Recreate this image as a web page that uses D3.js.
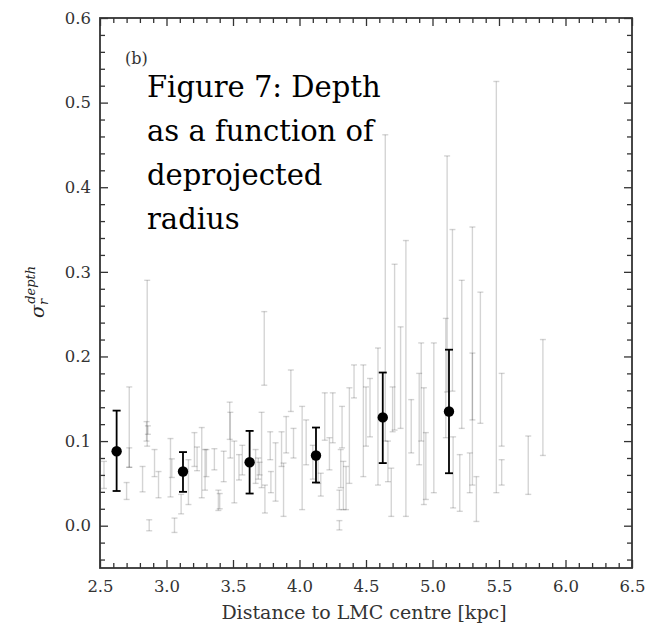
<!DOCTYPE html>
<html>
<head>
<meta charset="utf-8">
<script src="https://cdn.jsdelivr.net/npm/d3@7"></script>
<style>
  html, body { margin: 0; padding: 0; background: #fff; }
  svg { display: block; }
</style>
</head>
<body>
<svg id="chart" width="662" height="625"></svg>
<script>
// ---- data ----
const xTicks = [2.5, 3.0, 3.5, 4.0, 4.5, 5.0, 5.5, 6.0, 6.5];
const yTicks = [0.0, 0.1, 0.2, 0.3, 0.4, 0.5, 0.6];

// individual field measurements (grey error bars): x, low, high
const greyX  = [2.53,2.72,2.72,2.70,2.855,2.85,2.86,2.87,2.82,2.91,2.94,3.03,3.04,3.06,3.11,3.165,3.21,3.23,3.265,3.29,
                3.30,3.36,3.39,3.40,3.43,3.475,3.48,3.51,3.545,3.57,3.67,3.69,3.70,3.715,3.735,3.74,3.78,3.785,3.82,3.865,
                3.88,3.90,3.935,3.955,4.02,4.05,4.10,4.14,4.16,4.19,4.225,4.25,4.30,4.30,4.31,4.32,4.33,4.35,4.375,4.41,
                4.48,4.50,4.53,4.59,4.645,4.665,4.69,4.70,4.715,4.76,4.80,4.84,4.90,4.915,4.935,4.95,5.01,5.11,5.10,5.15,
                5.155,5.205,5.22,5.28,5.30,5.30,5.33,5.36,5.48,5.52,5.52,5.72,5.83];
const greyLo = [0.044,0.069,0.069,0.031,0.094,0.100,0.108,-0.006,0.040,0.058,0.033,0.034,0.057,-0.008,0.014,0.025,0.070,0.065,0.033,0.042,
                0.058,0.066,0.018,0.020,0.052,0.102,0.080,0.027,0.054,0.060,0.050,0.055,0.060,0.045,0.166,0.015,0.078,0.039,0.029,0.070,
                0.011,0.086,0.135,0.080,0.019,0.072,0.055,0.050,0.035,0.101,0.066,0.098,0.019,-0.005,0.045,0.092,0.019,0.019,0.050,0.151,
                0.058,0.094,0.105,0.048,0.100,0.052,0.011,0.111,0.113,0.115,0.011,0.086,0.072,0.100,0.025,0.031,0.039,0.158,0.104,0.159,
                0.021,0.017,0.115,0.039,0.125,0.048,0.005,0.121,0.039,0.094,0.048,0.037,0.083];
const greyHi = [0.076,0.164,0.092,0.051,0.290,0.123,0.118,0.007,0.070,0.090,0.064,0.103,0.079,0.009,0.037,0.078,0.110,0.093,0.116,0.090,
                0.090,0.091,0.042,0.038,0.088,0.146,0.134,0.100,0.084,0.095,0.090,0.080,0.075,0.134,0.253,0.048,0.111,0.064,0.098,0.111,
                0.074,0.129,0.184,0.115,0.141,0.125,0.095,0.085,0.062,0.157,0.104,0.157,0.042,0.006,0.090,0.141,0.076,0.070,0.163,0.190,
                0.190,0.164,0.174,0.210,0.462,0.100,0.068,0.164,0.309,0.235,0.337,0.149,0.180,0.216,0.163,0.110,0.216,0.437,0.245,0.350,
                0.105,0.084,0.290,0.086,0.353,0.204,0.058,0.276,0.525,0.180,0.078,0.106,0.220];

// binned averages (black points)
const binX  = [2.625, 3.124, 3.625, 4.124, 4.626, 5.124];
const binY  = [0.088, 0.064, 0.075, 0.083, 0.128, 0.135];
const binLo = [0.041, 0.040, 0.038, 0.051, 0.074, 0.062];
const binHi = [0.136, 0.087, 0.112, 0.116, 0.181, 0.208];

const panelLabel = "(b)";
const overlayLines = ["Figure 7: Depth", "as a function of", "deprojected", "radius"];
const xLabel = "Distance to LMC centre [kpc]";

// ---- layout ----
const L = 100, R = 632, T = 18, B = 568;
const svg = d3.select("#chart");
const x = d3.scaleLinear().domain([2.5, 6.5]).range([L, R]);
const y = d3.scaleLinear().domain([-0.05, 0.6]).range([B, T]);

const axisColor = "#333";
const serif = "'DejaVu Serif', serif";

// grey error bars
const gData = greyX.map((v, i) => ({x: v, lo: greyLo[i], hi: greyHi[i]}));
const gG = svg.append("g").attr("stroke", "#000").attr("stroke-opacity", 0.17).attr("stroke-width", 1.4);
gData.forEach(d => {
  const cx = x(d.x);
  gG.append("line").attr("x1", cx).attr("x2", cx).attr("y1", y(d.lo)).attr("y2", y(d.hi));
  gG.append("line").attr("x1", cx - 3).attr("x2", cx + 3).attr("y1", y(d.lo)).attr("y2", y(d.lo));
  gG.append("line").attr("x1", cx - 3).attr("x2", cx + 3).attr("y1", y(d.hi)).attr("y2", y(d.hi));
});

// black binned points
const bData = binX.map((v, i) => ({x: v, y: binY[i], lo: binLo[i], hi: binHi[i]}));
const bG = svg.append("g").attr("stroke", "#000").attr("stroke-width", 1.8);
bData.forEach(d => {
  const cx = x(d.x);
  bG.append("line").attr("x1", cx).attr("x2", cx).attr("y1", y(d.lo)).attr("y2", y(d.hi));
  bG.append("line").attr("x1", cx - 4).attr("x2", cx + 4).attr("y1", y(d.lo)).attr("y2", y(d.lo));
  bG.append("line").attr("x1", cx - 4).attr("x2", cx + 4).attr("y1", y(d.hi)).attr("y2", y(d.hi));
});
svg.append("g").selectAll("circle").data(bData).join("circle")
  .attr("cx", d => x(d.x)).attr("cy", d => y(d.y)).attr("r", 5.2).attr("fill", "#000");

// axes
const xMinor = d3.range(25, 66).map(v => v / 10).filter(v => !xTicks.some(t => Math.abs(t - v) < 1e-6));
const yMinor = d3.range(-2, 31).map(v => v / 50).filter(v => !yTicks.some(t => Math.abs(t - v) < 1e-6) && v >= -0.05);
const fmt = d3.format(".1f");

function styleAxis(g) {
  g.select(".domain").remove();
  g.selectAll("line").attr("stroke", axisColor).attr("stroke-width", 1.3);
  g.selectAll("text").attr("fill", axisColor).style("font-family", serif).style("font-size", "16.5px");
}

svg.append("g").attr("transform", `translate(0,${B})`)
  .call(d3.axisBottom(x).tickValues(xTicks).tickFormat(fmt).tickSize(-8).tickPadding(12)).call(styleAxis);
svg.append("g").attr("transform", `translate(0,${B})`)
  .call(d3.axisBottom(x).tickValues(xMinor).tickFormat("").tickSize(-5)).call(styleAxis);
svg.append("g").attr("transform", `translate(0,${T})`)
  .call(d3.axisTop(x).tickValues(xTicks).tickFormat("").tickSize(-8)).call(styleAxis);
svg.append("g").attr("transform", `translate(0,${T})`)
  .call(d3.axisTop(x).tickValues(xMinor).tickFormat("").tickSize(-5)).call(styleAxis);

svg.append("g").attr("transform", `translate(${L},0)`)
  .call(d3.axisLeft(y).tickValues(yTicks).tickFormat(fmt).tickSize(-8).tickPadding(9)).call(styleAxis);
svg.append("g").attr("transform", `translate(${L},0)`)
  .call(d3.axisLeft(y).tickValues(yMinor).tickFormat("").tickSize(-5)).call(styleAxis);
svg.append("g").attr("transform", `translate(${R},0)`)
  .call(d3.axisRight(y).tickValues(yTicks).tickFormat("").tickSize(-8)).call(styleAxis);
svg.append("g").attr("transform", `translate(${R},0)`)
  .call(d3.axisRight(y).tickValues(yMinor).tickFormat("").tickSize(-5)).call(styleAxis);

// frame
svg.append("rect").attr("x", L).attr("y", T).attr("width", R - L).attr("height", B - T)
  .attr("fill", "none").attr("stroke", axisColor).attr("stroke-width", 1.8);

// x label
svg.append("text").attr("x", 364).attr("y", 619).attr("text-anchor", "middle")
  .attr("fill", axisColor).style("font-family", serif).style("font-size", "19px").text(xLabel);

// y label: sigma_r^depth
const yl = svg.append("text").attr("transform", "translate(44,292) rotate(-90)")
  .attr("text-anchor", "middle").attr("fill", "#222").style("font-family", serif).style("font-style", "italic");
yl.append("tspan").style("font-size", "19px").text("σ");
yl.append("tspan").style("font-size", "13px").attr("dy", 4).text("r");
yl.append("tspan").style("font-size", "13px").attr("dx", -5).attr("dy", -13).text("depth");

// panel label
svg.append("text").attr("x", 125).attr("y", 64).attr("fill", axisColor)
  .style("font-family", serif).style("font-size", "16px").text(panelLabel);

// overlay caption
const cap = svg.append("text").attr("fill", "#000").style("font-family", serif).style("font-size", "29px");
overlayLines.forEach((s, i) => {
  cap.append("tspan").attr("x", 147).attr("y", 97 + i * 44).text(s);
});
</script>
</body>
</html>
